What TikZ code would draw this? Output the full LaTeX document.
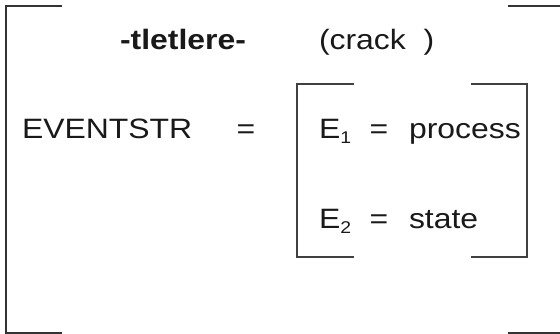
\documentclass[tikz,border=0pt]{standalone}
\usepackage{fontspec}
\setmainfont[FakeStretch=1.14]{Liberation Sans}
\usepackage{xcolor}
\usepackage{tikz}
\usetikzlibrary{positioning, calc}

\newcommand{\esub}[1]{\raisebox{-4.5pt}{\fontsize{17}{17}\selectfont #1}}

\begin{document}
\begin{tikzpicture}[x=1pt, y=1pt, >=stealth]
    % Styles
    \tikzstyle{txt} = [inner sep=0pt, outer sep=0pt, font=\fontsize{28}{30}\selectfont, text=black!90]
    \tikzstyle{brk} = [draw=black!80, line width=1.3pt]
    \tikzstyle{ibrk} = [draw=black!75, line width=1.1pt]

    \useasboundingbox [fill=white] (0,0) rectangle (560,334);

    % Nodes
    \node [txt, anchor=base west, font=\fontsize{28}{30}\selectfont\bfseries] (title) at (120,284) {-tletlere-};
    \node [txt, anchor=base west] (crack) at (319,284) {(crack\ \ )};
    \node [txt, anchor=base west] (evstr) at (22,195) {EVENTSTR};
    \node [txt, anchor=base] (eq) at (246,195) {=};
    \node [txt, anchor=base west] (eone) at (319,195) {E\esub{1}};
    \node [txt, anchor=base] (eqone) at (379,195) {=};
    \node [txt, anchor=base west] (proc) at (409,195) {process};
    \node [txt, anchor=base west] (etwo) at (319,105) {E\esub{2}};
    \node [txt, anchor=base] (eqtwo) at (379,105) {=};
    \node [txt, anchor=base west] (state) at (409,105) {state};

    % Outer bracket
    \coordinate (otl) at (6,328);
    \coordinate (obl) at (6,1);
    \coordinate (otr) at (560,328);
    \coordinate (obr) at (560,1);
    \path [brk] (62,328) -- (otl) -- (obl) -- (62,1);
    \path [brk] (508,328) -- (otr);
    \path [brk] (508,1) -- (obr);

    % Inner bracket
    \coordinate (itl) at (297,250);
    \coordinate (ibl) at (297,77);
    \coordinate (itr) at (527,250);
    \coordinate (ibr) at (527,77);
    \path [ibrk] (354,250) -- (itl) -- (ibl) -- (354,77);
    \path [ibrk] (471,250) -- (itr) -- (ibr) -- (471,77);
\end{tikzpicture}
\end{document}
